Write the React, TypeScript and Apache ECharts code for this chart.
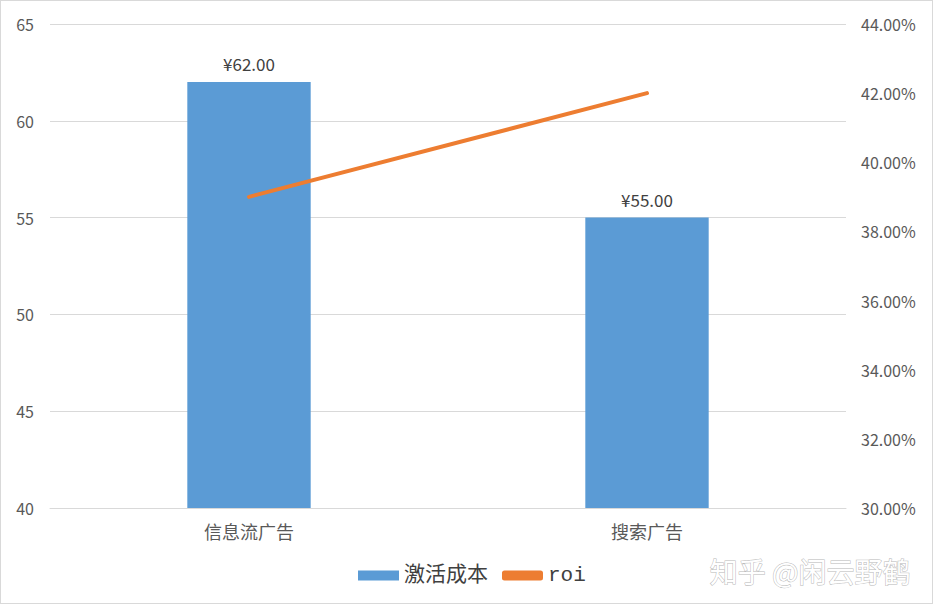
import { useEffect, useRef } from 'react';
import * as echarts from 'echarts';

const categories = ['信息流广告', '搜索广告'];
const costValues = [62, 55];
const roiValues = [0.39, 0.42];
const costSeriesName = '激活成本';
const roiSeriesName = 'roi';
const watermarkText = '知乎 @闲云野鹤';

const App = () => {
    const chartRef = useRef<HTMLDivElement>(null);

    useEffect(() => {
        if (!chartRef.current) return;
        document.body.style.margin = '0';

        const chart = echarts.init(chartRef.current, null, { renderer: 'svg' });

        const labelFont = { color: '#595959', fontSize: 16, fontFamily: '"Noto Sans CJK SC", "Noto Sans", sans-serif' };

        chart.setOption({
            animation: false,
            backgroundColor: '#ffffff',
            grid: { left: 49, right: 86, top: 23, bottom: 95 },
            legend: {
                bottom: 12,
                left: 352,
                itemWidth: 41,
                itemHeight: 10,
                itemGap: 14,
                textStyle: {
                    color: '#404040',
                    fontSize: 21,
                    fontFamily: '"Liberation Mono", "Noto Sans CJK SC", monospace'
                },
                data: [
                    { name: costSeriesName, icon: 'rect' },
                    { name: roiSeriesName, icon: 'roundRect' }
                ]
            },
            xAxis: {
                type: 'category',
                data: categories,
                axisLine: { lineStyle: { color: '#d9d9d9', width: 1 } },
                axisTick: { show: false },
                axisLabel: { ...labelFont, fontSize: 18, margin: 14 }
            },
            yAxis: [
                {
                    type: 'value',
                    min: 40,
                    max: 65,
                    interval: 5,
                    axisLine: { show: false },
                    axisTick: { show: false },
                    splitLine: { lineStyle: { color: '#d9d9d9', width: 1 } },
                    axisLabel: { ...labelFont, margin: 16 }
                },
                {
                    type: 'value',
                    min: 0.30,
                    max: 0.44,
                    interval: 0.02,
                    axisLine: { show: false },
                    axisTick: { show: false },
                    splitLine: { show: false },
                    axisLabel: {
                        ...labelFont,
                        margin: 15,
                        formatter: (v: number) => (v * 100).toFixed(2) + '%'
                    }
                }
            ],
            series: [
                {
                    name: costSeriesName,
                    type: 'bar',
                    data: costValues,
                    barWidth: '31%',
                    itemStyle: { color: '#5b9bd5' },
                    label: {
                        show: true,
                        position: 'top',
                        distance: 10,
                        color: '#404040',
                        fontSize: 17,
                        fontFamily: '"Noto Sans CJK SC", "Noto Sans", sans-serif',
                        formatter: (p: any) => '¥' + Number(p.value).toFixed(2)
                    }
                },
                {
                    name: roiSeriesName,
                    type: 'line',
                    yAxisIndex: 1,
                    data: roiValues,
                    symbol: 'none',
                    lineStyle: { color: '#ed7d31', width: 4, cap: 'round' },
                    itemStyle: { color: '#ed7d31' }
                }
            ],
            graphic: [
                {
                    type: 'text',
                    right: 21,
                    bottom: 18,
                    style: {
                        text: watermarkText,
                        fill: '#ffffff',
                        stroke: '#b8b8b8',
                        lineWidth: 1,
                        fontSize: 28,
                        fontFamily: '"Noto Sans CJK SC", sans-serif'
                    }
                }
            ]
        });

        return () => {
            chart.dispose();
        };
    }, []);

    return (
        <div
            ref={chartRef}
            style={{ width: '933px', height: '604px', border: '1px solid #d9d9d9', boxSizing: 'border-box' }}
        />
    );
};

export default App;
